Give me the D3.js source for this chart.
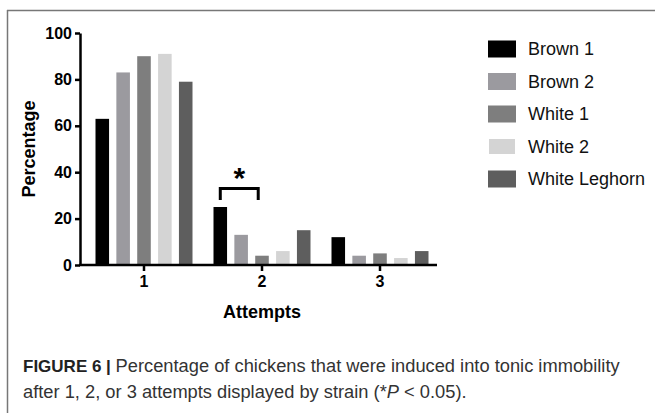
<!DOCTYPE html>
<html>
<head>
<meta charset="utf-8">
<script src="https://cdn.jsdelivr.net/npm/d3@7"></script>
<style>
    body { margin: 0; background: #fff; }
    text { font-family: "Liberation Sans", Arial, sans-serif; }
</style>
</head>
<body>
<div id="chart"></div>
<script>
const attempts = ["1", "2", "3"];
const strains = ["Brown 1", "Brown 2", "White 1", "White 2", "White Leghorn"];
const brown1 = [63, 25, 12];
const brown2 = [83, 13, 4];
const white1 = [90, 4, 5];
const white2 = [91, 6, 3];
const leghorn = [79, 15, 6];
const yTicks = [0, 20, 40, 60, 80, 100];
const colors = ["#000000", "#9b9a9f", "#7e7e7e", "#d4d4d4", "#5e5e5e"];

const series = [brown1, brown2, white1, white2, leghorn];

const width = 655, height = 413;

let svg = d3.select("#chart")
    .append("svg")
    .attr("width", width)
    .attr("height", height);

// frame
svg.append("line")
    .attr("x1", 7.5).attr("x2", 7.5).attr("y1", 10).attr("y2", height)
    .attr("stroke", "#777").attr("stroke-width", 1.5);
svg.append("line")
    .attr("x1", 7).attr("x2", width).attr("y1", 10.5).attr("y2", 10.5)
    .attr("stroke", "#777").attr("stroke-width", 1.5);

let yScale = d3.scaleLinear().domain([0, 100]).range([265, 33]);

let x0 = d3.scaleBand().domain(attempts).range([85, 439]).padding(0);
let x1 = d3.scaleBand().domain(strains).range([-48.5, 48.5]).paddingInner(0.35).paddingOuter(0);

// bars
const table = [];
attempts.forEach((a, i) => {
    strains.forEach((s, j) => {
        table.push({ attempt: a, strain: s, value: series[j][i], color: colors[j] });
    });
});

svg.selectAll("rect.bar")
    .data(table)
    .enter()
    .append("rect")
    .attr("class", "bar")
    .attr("x", d => x0(d.attempt) + x0.bandwidth() / 2 + x1(d.strain))
    .attr("width", x1.bandwidth())
    .attr("y", d => yScale(d.value))
    .attr("height", d => yScale(0) - yScale(d.value))
    .attr("fill", d => d.color);

// y axis
let yAxis = svg.append("g")
    .attr("transform", "translate(80,0)")
    .call(d3.axisLeft(yScale).tickValues(yTicks).tickSize(5).tickSizeOuter(0).tickPadding(3));
yAxis.select(".domain").attr("stroke", "#000").attr("stroke-width", 2.5);
yAxis.selectAll(".tick line").attr("stroke", "#000").attr("stroke-width", 2.5);
yAxis.selectAll(".tick text")
    .attr("font-family", "Liberation Sans, Arial, sans-serif")
    .attr("font-size", 16).attr("font-weight", "bold").attr("fill", "#000");

// x axis
let xAxis = svg.append("g")
    .attr("transform", "translate(0,265)")
    .call(d3.axisBottom(x0).tickSize(6).tickSizeOuter(0).tickPadding(5));
xAxis.select(".domain").remove();
xAxis.append("line")
    .attr("x1", 79).attr("x2", 437).attr("y1", 0).attr("y2", 0)
    .attr("stroke", "#000").attr("stroke-width", 2.5);
xAxis.selectAll(".tick line").attr("stroke", "#000").attr("stroke-width", 2.5);
xAxis.selectAll(".tick text")
    .attr("font-family", "Liberation Sans, Arial, sans-serif")
    .attr("font-size", 16).attr("font-weight", "bold").attr("fill", "#000");

// axis titles
svg.append("text")
    .attr("transform", "translate(35,149) rotate(-90)")
    .attr("text-anchor", "middle")
    .attr("font-size", 18).attr("font-weight", "bold")
    .text("Percentage");

svg.append("text")
    .attr("x", x0("2") + x0.bandwidth() / 2)
    .attr("y", 318)
    .attr("text-anchor", "middle")
    .attr("font-size", 18).attr("font-weight", "bold")
    .text("Attempts");

// significance bracket
const bx1 = x0("2") + x0.bandwidth() / 2 + x1("Brown 1") + x1.bandwidth() / 2;
const bx2 = x0("2") + x0.bandwidth() / 2 + x1("White 1") + 3;
svg.append("path")
    .attr("d", `M${bx1},${yScale(28)}V${yScale(33)}H${bx2}V${yScale(28)}`)
    .attr("fill", "none")
    .attr("stroke", "#000")
    .attr("stroke-width", 3);
svg.append("text")
    .attr("x", (bx1 + bx2) / 2)
    .attr("y", yScale(33))
    .attr("text-anchor", "middle")
    .attr("font-size", 30).attr("font-weight", "bold")
    .text("*");

// legend
let legend = svg.selectAll("g.legend")
    .data(strains)
    .enter()
    .append("g")
    .attr("class", "legend")
    .attr("transform", (d, i) => "translate(488," + (49 + i * 32.5) + ")");
legend.append("rect")
    .attr("x", (d, i) => i == 3 ? 1 : 0)
    .attr("y", (d, i) => i == 3 ? -7.5 : -8.5)
    .attr("width", (d, i) => i == 3 ? 26 : 28)
    .attr("height", (d, i) => i == 3 ? 15 : 17)
    .attr("fill", (d, i) => colors[i]);
legend.append("text")
    .attr("x", 40)
    .attr("y", 0)
    .attr("dy", "0.36em")
    .attr("font-size", 18)
    .attr("fill", "#111")
    .text(d => d);

// caption
let cap1 = svg.append("text")
    .attr("x", 23).attr("y", 372)
    .attr("font-size", 18.3).attr("fill", "#333");
cap1.append("tspan").attr("font-weight", "bold").attr("font-size", 17).attr("fill", "#222").text("FIGURE 6 | ");
cap1.append("tspan").text("Percentage of chickens that were induced into tonic immobility");

let cap2 = svg.append("text")
    .attr("x", 23).attr("y", 398)
    .attr("font-size", 18.3).attr("fill", "#333");
cap2.append("tspan").text("after 1, 2, or 3 attempts displayed by strain (*");
cap2.append("tspan").attr("font-style", "italic").text("P");
cap2.append("tspan").text(" < 0.05).");
</script>
</body>
</html>
